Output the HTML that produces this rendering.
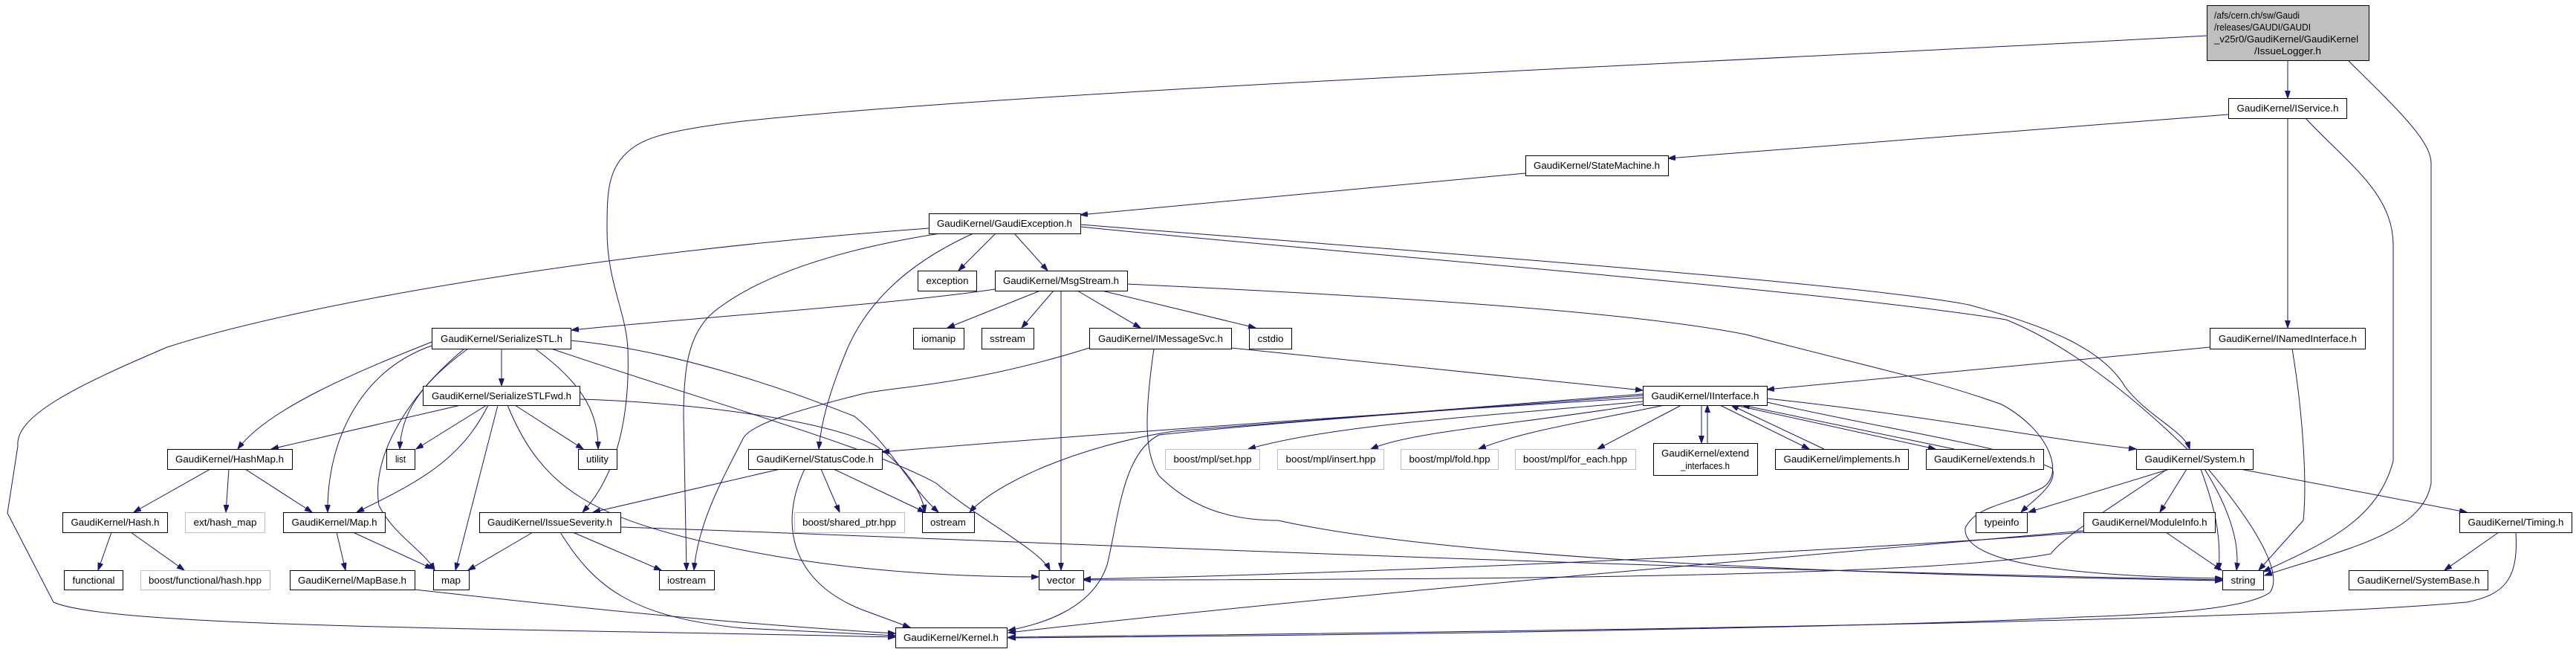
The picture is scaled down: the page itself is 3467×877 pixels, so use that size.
<!DOCTYPE html>
<html><head><meta charset="utf-8"><style>
html,body{margin:0;padding:0;background:#fff;}
svg{display:block;}
text{font-family:"Liberation Sans",sans-serif;font-size:13px;fill:#000;}
.n{fill:#fff;stroke:#000;stroke-width:1;}
.g{fill:#fff;stroke:#bfbfbf;stroke-width:1;}
.e{fill:none;stroke:#191970;stroke-width:1;marker-end:url(#a);}
</style></head><body>
<svg width="3467" height="877" viewBox="0 0 3467 877" xmlns="http://www.w3.org/2000/svg">
<defs><marker id="a" markerUnits="userSpaceOnUse" markerWidth="11" markerHeight="8" refX="10" refY="3.5" orient="auto"><path d="M0,0 L10,3.5 L0,7 z" fill="#191970" stroke="#191970"/></marker></defs>
<g>
<path class="e" d="M3079,81 L3079,132"/>
<path class="e" d="M2970,48 C2500,75 1400,120 1000,163 C900,175 870,185 850,200 C817,225 817,260 817,310 C817,380 843,420 845,470 C848,560 830,640 784,689"/>
<path class="e" d="M3160,81 C3230,150 3272,190 3272,220 L3272,650 C3260,720 3150,740 3048,774"/>
<path class="e" d="M2999,154 L2245,213"/>
<path class="e" d="M3079,159 L3079,441"/>
<path class="e" d="M3103,159 C3160,220 3221,260 3221,330 L3221,620 C3200,700 3130,730 3046,769"/>
<path class="e" d="M2053,233 L1454,289"/>
<path class="e" d="M1250,307 C800,340 400,410 225,467 C100,520 20,560 24,600 L10,690 L72,810 C150,845 700,845 1205,857"/>
<path class="e" d="M1340,314 L1290,364"/>
<path class="e" d="M1365,314 L1410,364"/>
<path class="e" d="M1265,314 C1100,340 1010,380 960,420 C925,450 920,500 920,560 L924,767"/>
<path class="e" d="M1310,314 C1230,350 1170,400 1140,470 C1115,530 1105,570 1102,604"/>
<path class="e" d="M1454,302 C1800,330 2500,380 2650,410 C2760,440 2830,470 2860,520 C2890,560 2940,580 2947,604"/>
<path class="e" d="M1454,305 C1800,340 2450,390 2700,430 C2800,470 2900,560 2960,620 C3000,680 3015,730 3010,767"/>
<path class="e" d="M1400,391 L1275,441"/>
<path class="e" d="M1418,391 L1375,441"/>
<path class="e" d="M1428,391 L1428,767"/>
<path class="e" d="M1450,391 L1535,441"/>
<path class="e" d="M1483,391 L1690,441"/>
<path class="e" d="M1339,389 C1200,410 900,430 769,444"/>
<path class="e" d="M1517,382 C1900,400 2200,420 2350,450 C2500,490 2600,510 2694,544 C2760,580 2780,640 2747,657 C2700,680 2660,680 2645,710 C2640,760 2800,775 2991,778"/>
<path class="e" d="M675,469 L675,519"/>
<path class="e" d="M581,460 C480,500 360,550 320,604"/>
<path class="e" d="M581,465 C480,500 440,600 441,689"/>
<path class="e" d="M630,469 C560,520 540,560 538,604"/>
<path class="e" d="M625,469 C540,540 500,620 510,680 C530,720 570,740 585,767"/>
<path class="e" d="M720,469 C790,520 805,560 805,604"/>
<path class="e" d="M768,458 C900,470 1050,520 1150,560 C1200,600 1220,650 1263,689"/>
<path class="e" d="M742,469 C950,540 1170,600 1260,650 C1320,700 1400,740 1413,767"/>
<path class="e" d="M620,545 L365,604"/>
<path class="e" d="M655,545 L560,604"/>
<path class="e" d="M657,545 C620,620 560,650 480,689"/>
<path class="e" d="M670,545 L613,767"/>
<path class="e" d="M693,545 L785,604"/>
<path class="e" d="M780,537 C900,540 1100,560 1180,600 C1220,630 1240,660 1245,689"/>
<path class="e" d="M683,545 C730,660 800,700 1000,740 C1150,770 1300,776 1398,776"/>
<path class="e" d="M283,631 L180,689"/>
<path class="e" d="M308,631 L304,689"/>
<path class="e" d="M330,631 L420,689"/>
<path class="e" d="M150,716 L132,767"/>
<path class="e" d="M176,716 L248,767"/>
<path class="e" d="M453,716 L465,767"/>
<path class="e" d="M475,716 L582,765"/>
<path class="e" d="M717,716 L630,767"/>
<path class="e" d="M771,716 L890,767"/>
<path class="e" d="M754,716 C800,790 850,830 1000,845 L1205,855"/>
<path class="e" d="M835,709 C1200,720 2000,760 2991,780"/>
<path class="e" d="M558,793 C800,820 1000,840 1205,852"/>
<path class="e" d="M1050,631 L798,689"/>
<path class="e" d="M1105,631 L1130,689"/>
<path class="e" d="M1122,631 L1245,689"/>
<path class="e" d="M1083,631 C1050,700 1060,780 1160,820 L1225,844"/>
<path class="e" d="M1657,468 L2211,525"/>
<path class="e" d="M1466,468 C1300,520 1200,520 1160,530 C1080,550 1010,570 1000,590 C975,640 940,700 934,767"/>
<path class="e" d="M1553,469 C1540,560 1540,610 1560,640 C1600,680 1650,700 1720,700 C1900,740 2300,770 2991,781"/>
<path class="e" d="M2974,467 L2378,524"/>
<path class="e" d="M3085,469 C3100,560 3105,650 3100,700 L3040,767"/>
<path class="e" d="M2211,540 C2000,560 1800,570 1680,604"/>
<path class="e" d="M2215,543 C2050,570 1900,580 1845,604"/>
<path class="e" d="M2240,545 C2120,570 2050,580 1990,604"/>
<path class="e" d="M2263,545 L2150,604"/>
<path class="e" d="M2290,545 L2290,596"/>
<path class="e" d="M2298,596 L2298,545"/>
<path class="e" d="M2315,545 L2435,604"/>
<path class="e" d="M2455,604 L2330,545"/>
<path class="e" d="M2335,545 L2605,604"/>
<path class="e" d="M2630,604 L2345,545"/>
<path class="e" d="M2378,536 C2600,560 2750,590 2875,604"/>
<path class="e" d="M2211,535 C1800,560 1400,590 1187,608"/>
<path class="e" d="M2211,530 C1900,555 1700,570 1580,580 C1450,600 1340,650 1305,689"/>
<path class="e" d="M2211,532 C1900,555 1700,570 1560,585 C1510,610 1505,700 1490,760 C1470,820 1400,840 1357,848"/>
<path class="e" d="M2378,541 C2550,580 2700,600 2762,630 C2770,650 2740,670 2720,689"/>
<path class="e" d="M2920,631 L2730,689"/>
<path class="e" d="M2943,631 L2907,689"/>
<path class="e" d="M2962,631 C2980,680 2990,720 2986,767"/>
<path class="e" d="M2972,631 C3030,700 3075,770 3055,797 C3030,815 2950,825 2800,830 C2500,845 1800,855 1357,858"/>
<path class="e" d="M3015,631 L3320,689"/>
<path class="e" d="M2917,631 C2830,690 2780,720 2760,745 C2600,775 2000,780 1458,780"/>
<path class="e" d="M2915,716 L2990,767"/>
<path class="e" d="M2804,716 C2500,740 1900,770 1458,779"/>
<path class="e" d="M2804,714 C2400,750 1800,800 1357,851"/>
<path class="e" d="M3363,716 L3290,767"/>
<path class="e" d="M3386,716 C3390,780 3370,800 3320,810 C3100,830 2500,845 1357,857"/>
</g>
<g>
<rect x="2970.5" y="7.5" width="218" height="74" fill="#bfbfbf" stroke="#000"/>
<text x="2980" y="25" textLength="115" lengthAdjust="spacingAndGlyphs">/afs/cern.ch/sw/Gaudi</text>
<text x="2980" y="41" textLength="130" lengthAdjust="spacingAndGlyphs">/releases/GAUDI/GAUDI</text>
<text x="2980" y="57" textLength="194" lengthAdjust="spacingAndGlyphs">_v25r0/GaudiKernel/GaudiKernel</text>
<text x="3079" y="73" text-anchor="middle" textLength="90" lengthAdjust="spacingAndGlyphs">/IssueLogger.h</text>

<rect class="n" x="2999.5" y="132.5" width="159" height="27"/><text x="3079" y="150" text-anchor="middle" textLength="137" lengthAdjust="spacingAndGlyphs">GaudiKernel/IService.h</text>
<rect class="n" x="2053.5" y="209.5" width="192" height="27"/><text x="2149" y="227" text-anchor="middle" textLength="170" lengthAdjust="spacingAndGlyphs">GaudiKernel/StateMachine.h</text>
<rect class="n" x="1250.5" y="287.5" width="204" height="27"/><text x="1352" y="305" text-anchor="middle" textLength="182" lengthAdjust="spacingAndGlyphs">GaudiKernel/GaudiException.h</text>
<rect class="n" x="1235.5" y="364.5" width="79" height="27"/><text x="1275" y="382" text-anchor="middle" textLength="57" lengthAdjust="spacingAndGlyphs">exception</text>
<rect class="n" x="1339.5" y="364.5" width="178" height="27"/><text x="1428" y="382" text-anchor="middle" textLength="156" lengthAdjust="spacingAndGlyphs">GaudiKernel/MsgStream.h</text>
<rect class="n" x="581.5" y="441.5" width="187" height="28"/><text x="675" y="460" text-anchor="middle" textLength="164" lengthAdjust="spacingAndGlyphs">GaudiKernel/SerializeSTL.h</text>
<rect class="n" x="1229.5" y="441.5" width="68" height="28"/><text x="1263" y="460" text-anchor="middle" textLength="46" lengthAdjust="spacingAndGlyphs">iomanip</text>
<rect class="n" x="1321.5" y="441.5" width="70" height="28"/><text x="1356" y="460" text-anchor="middle" textLength="48" lengthAdjust="spacingAndGlyphs">sstream</text>
<rect class="n" x="1466.5" y="441.5" width="191" height="28"/><text x="1562" y="460" text-anchor="middle" textLength="168" lengthAdjust="spacingAndGlyphs">GaudiKernel/IMessageSvc.h</text>
<rect class="n" x="1681.5" y="441.5" width="57" height="28"/><text x="1710" y="460" text-anchor="middle" textLength="35" lengthAdjust="spacingAndGlyphs">cstdio</text>
<rect class="n" x="2974.5" y="441.5" width="209" height="28"/><text x="3079" y="460" text-anchor="middle" textLength="186" lengthAdjust="spacingAndGlyphs">GaudiKernel/INamedInterface.h</text>
<rect class="n" x="569.5" y="519.5" width="211" height="26"/><text x="675" y="537" text-anchor="middle" textLength="188" lengthAdjust="spacingAndGlyphs">GaudiKernel/SerializeSTLFwd.h</text>
<rect class="n" x="2211.5" y="519.5" width="167" height="26"/><text x="2295" y="537" text-anchor="middle" textLength="145" lengthAdjust="spacingAndGlyphs">GaudiKernel/IInterface.h</text>
<rect class="n" x="225.5" y="604.5" width="168" height="27"/><text x="309" y="622" text-anchor="middle" textLength="146" lengthAdjust="spacingAndGlyphs">GaudiKernel/HashMap.h</text>
<rect class="n" x="520.5" y="604.5" width="38" height="27"/><text x="539" y="622" text-anchor="middle" textLength="14" lengthAdjust="spacingAndGlyphs">list</text>
<rect class="n" x="778.5" y="604.5" width="52" height="27"/><text x="804" y="622" text-anchor="middle" textLength="30" lengthAdjust="spacingAndGlyphs">utility</text>
<rect class="n" x="1007.5" y="604.5" width="180" height="27"/><text x="1097" y="622" text-anchor="middle" textLength="158" lengthAdjust="spacingAndGlyphs">GaudiKernel/StatusCode.h</text>
<rect class="g" x="1568.5" y="604.5" width="127" height="27"/><text x="1632" y="622" text-anchor="middle" textLength="105" lengthAdjust="spacingAndGlyphs">boost/mpl/set.hpp</text>
<rect class="g" x="1719.5" y="604.5" width="143" height="27"/><text x="1791" y="622" text-anchor="middle" textLength="121" lengthAdjust="spacingAndGlyphs">boost/mpl/insert.hpp</text>
<rect class="g" x="1885.5" y="604.5" width="131" height="27"/><text x="1951" y="622" text-anchor="middle" textLength="109" lengthAdjust="spacingAndGlyphs">boost/mpl/fold.hpp</text>
<rect class="g" x="2039.5" y="604.5" width="162" height="27"/><text x="2120" y="622" text-anchor="middle" textLength="140" lengthAdjust="spacingAndGlyphs">boost/mpl/for_each.hpp</text>
<rect class="n" x="2225.5" y="596.5" width="140" height="43"/><text x="2295" y="614" text-anchor="middle" textLength="118" lengthAdjust="spacingAndGlyphs">GaudiKernel/extend</text><text x="2295" y="631" text-anchor="middle" textLength="66" lengthAdjust="spacingAndGlyphs">_interfaces.h</text>
<rect class="n" x="2389.5" y="604.5" width="179" height="27"/><text x="2479" y="622" text-anchor="middle" textLength="157" lengthAdjust="spacingAndGlyphs">GaudiKernel/implements.h</text>
<rect class="n" x="2592.5" y="604.5" width="158" height="27"/><text x="2671" y="622" text-anchor="middle" textLength="136" lengthAdjust="spacingAndGlyphs">GaudiKernel/extends.h</text>
<rect class="n" x="2875.5" y="604.5" width="157" height="27"/><text x="2954" y="622" text-anchor="middle" textLength="135" lengthAdjust="spacingAndGlyphs">GaudiKernel/System.h</text>
<rect class="n" x="84.5" y="689.5" width="141" height="27"/><text x="155" y="707" text-anchor="middle" textLength="119" lengthAdjust="spacingAndGlyphs">GaudiKernel/Hash.h</text>
<rect class="g" x="249.5" y="689.5" width="107" height="27"/><text x="303" y="707" text-anchor="middle" textLength="85" lengthAdjust="spacingAndGlyphs">ext/hash_map</text>
<rect class="n" x="381.5" y="689.5" width="137" height="27"/><text x="450" y="707" text-anchor="middle" textLength="115" lengthAdjust="spacingAndGlyphs">GaudiKernel/Map.h</text>
<rect class="n" x="645.5" y="689.5" width="190" height="27"/><text x="740" y="707" text-anchor="middle" textLength="168" lengthAdjust="spacingAndGlyphs">GaudiKernel/IssueSeverity.h</text>
<rect class="g" x="1069.5" y="689.5" width="148" height="27"/><text x="1143" y="707" text-anchor="middle" textLength="126" lengthAdjust="spacingAndGlyphs">boost/shared_ptr.hpp</text>
<rect class="n" x="1241.5" y="689.5" width="70" height="27"/><text x="1276" y="707" text-anchor="middle" textLength="48" lengthAdjust="spacingAndGlyphs">ostream</text>
<rect class="n" x="2659.5" y="689.5" width="69" height="27"/><text x="2694" y="707" text-anchor="middle" textLength="47" lengthAdjust="spacingAndGlyphs">typeinfo</text>
<rect class="n" x="2804.5" y="689.5" width="177" height="27"/><text x="2893" y="707" text-anchor="middle" textLength="155" lengthAdjust="spacingAndGlyphs">GaudiKernel/ModuleInfo.h</text>
<rect class="n" x="3310.5" y="689.5" width="151" height="27"/><text x="3386" y="707" text-anchor="middle" textLength="129" lengthAdjust="spacingAndGlyphs">GaudiKernel/Timing.h</text>
<rect class="n" x="86.5" y="767.5" width="79" height="26"/><text x="126" y="785" text-anchor="middle" textLength="57" lengthAdjust="spacingAndGlyphs">functional</text>
<rect class="g" x="189.5" y="767.5" width="174" height="26"/><text x="276" y="785" text-anchor="middle" textLength="152" lengthAdjust="spacingAndGlyphs">boost/functional/hash.hpp</text>
<rect class="n" x="390.5" y="767.5" width="168" height="26"/><text x="474" y="785" text-anchor="middle" textLength="146" lengthAdjust="spacingAndGlyphs">GaudiKernel/MapBase.h</text>
<rect class="n" x="583.5" y="767.5" width="48" height="26"/><text x="607" y="785" text-anchor="middle" textLength="26" lengthAdjust="spacingAndGlyphs">map</text>
<rect class="n" x="887.5" y="767.5" width="74" height="26"/><text x="924" y="785" text-anchor="middle" textLength="52" lengthAdjust="spacingAndGlyphs">iostream</text>
<rect class="n" x="1398.5" y="767.5" width="60" height="26"/><text x="1428" y="785" text-anchor="middle" textLength="38" lengthAdjust="spacingAndGlyphs">vector</text>
<rect class="n" x="2991.5" y="767.5" width="55" height="26"/><text x="3019" y="785" text-anchor="middle" textLength="33" lengthAdjust="spacingAndGlyphs">string</text>
<rect class="n" x="3161.5" y="767.5" width="187" height="26"/><text x="3255" y="785" text-anchor="middle" textLength="165" lengthAdjust="spacingAndGlyphs">GaudiKernel/SystemBase.h</text>
<rect class="n" x="1205.5" y="844.5" width="150" height="27"/><text x="1280" y="862" text-anchor="middle" textLength="128" lengthAdjust="spacingAndGlyphs">GaudiKernel/Kernel.h</text>
</g>
</svg>
</body></html>
